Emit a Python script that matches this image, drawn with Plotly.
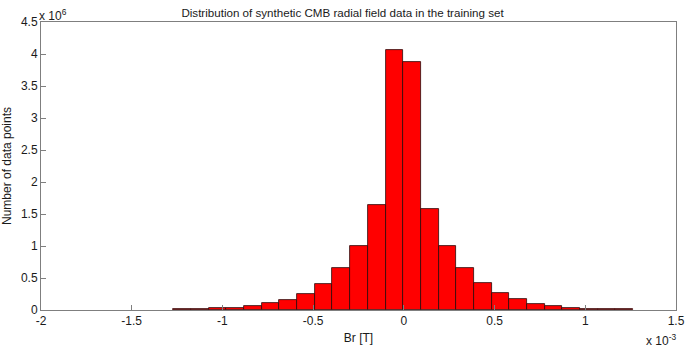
import plotly.graph_objects as go

# Data (Br in units of 1e-3 T, counts in units of 1e6)
bin_start = -1.27
bin_width = 0.0974
counts = [0.015, 0.02, 0.027, 0.036, 0.062, 0.105, 0.15, 0.25, 0.41, 0.65,
          1.0, 1.64, 4.07, 3.88, 1.58, 1.0, 0.66, 0.42, 0.26, 0.167,
          0.094, 0.062, 0.031, 0.02, 0.01, 0.008]
centers = [bin_start + bin_width * (i + 0.5) for i in range(len(counts))]

x_ticks = [-2, -1.5, -1, -0.5, 0, 0.5, 1, 1.5]
x_tick_labels = ["-2", "-1.5", "-1", "-0.5", "0", "0.5", "1", "1.5"]
y_ticks = [0, 0.5, 1, 1.5, 2, 2.5, 3, 3.5, 4, 4.5]
y_tick_labels = ["0", "0.5", "1", "1.5", "2", "2.5", "3", "3.5", "4", "4.5"]

font = "Liberation Sans, Arial, sans-serif"
axis_col = "#7f7f7f"

fig = go.Figure()
fig.add_trace(go.Bar(
    x=centers, y=counts, width=bin_width,
    marker=dict(color="#ff0000", line=dict(color="#2a0a0a", width=0.8)),
    showlegend=False, hoverinfo="skip",
))

fig.update_layout(
    width=685, height=350,
    margin=dict(l=41, r=9, t=22, b=40, autoexpand=False),
    paper_bgcolor="white", plot_bgcolor="white",
    font=dict(family=font, size=12, color="#1a1a1a"),
    bargap=0,
    title=dict(text="Distribution of synthetic CMB radial field data in the training set",
               x=0.5, xref="container", xanchor="center", y=1 - 12.5 / 350, yref="container",
               yanchor="middle", font=dict(size=11.6)),
    xaxis=dict(range=[-2, 1.5], tickvals=x_ticks, ticktext=x_tick_labels,
               ticks="inside", ticklen=5, tickcolor=axis_col, showline=True,
               linecolor=axis_col, linewidth=1, mirror=True, showgrid=False,
               zeroline=False, tickfont=dict(size=12),
               title=dict(text="Br [T]", standoff=6, font=dict(size=12))),
    yaxis=dict(range=[0, 4.5], tickvals=y_ticks, ticktext=y_tick_labels,
               ticks="inside", ticklen=5, tickcolor=axis_col, showline=True,
               linecolor=axis_col, linewidth=1, mirror=True, showgrid=False,
               zeroline=False, tickfont=dict(size=12),
               title=dict(text="Number of data points", standoff=6, font=dict(size=12))),
    annotations=[
        dict(text="x 10<sup>6</sup>", x=0, y=1, xref="paper", yref="paper",
             xanchor="left", yanchor="bottom", showarrow=False, yshift=-3, xshift=-4,
             font=dict(size=12)),
        dict(text="x 10<sup>-3</sup>", x=1, y=0, xref="paper", yref="paper",
             xanchor="right", yanchor="top", showarrow=False, yshift=-20, xshift=2,
             font=dict(size=12)),
    ],
)

fig.write_html("out.html",
               config={"displayModeBar": False},
               post_script="document.body.style.margin='0px';document.body.style.overflow='hidden';")
